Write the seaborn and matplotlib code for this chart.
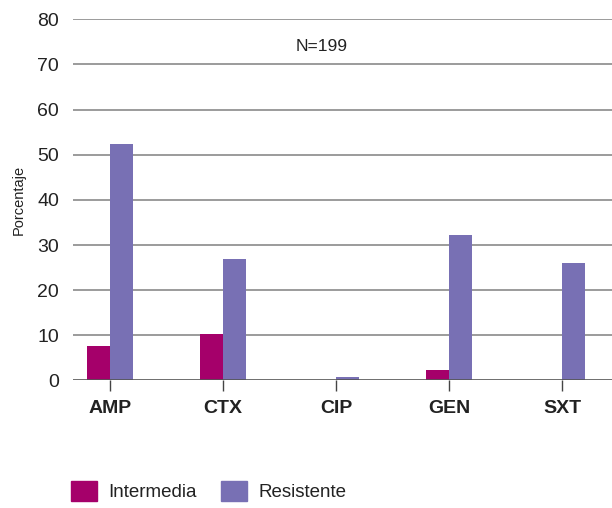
import matplotlib
matplotlib.use("Agg")
import matplotlib.pyplot as plt
import seaborn as sns
import pandas as pd

# data
antibiotics = ['AMP', 'CTX', 'CIP', 'GEN', 'SXT']
intermedia = [7.7, 10.3, 0.0, 2.3, 0.0]
resistente = [52.3, 26.9, 0.8, 32.2, 26.1]
y_ticks = [0, 10, 20, 30, 40, 50, 60, 70, 80]

df = pd.DataFrame({
    'antibiotico': antibiotics * 2,
    'porcentaje': intermedia + resistente,
    'categoria': ['Intermedia'] * 5 + ['Resistente'] * 5,
})

sns.set_style("white")
plt.rcParams['font.family'] = ['Liberation Sans', 'DejaVu Sans']

fig = plt.figure(figsize=(6.12, 5.08), dpi=100)
ax = fig.add_axes([0.119, 0.251, 0.881, 0.711])

palette = {'Intermedia': '#A5006A', 'Resistente': '#7870B4'}
sns.barplot(data=df, x='antibiotico', y='porcentaje', hue='categoria',
            palette=palette, width=0.41, saturation=1, ax=ax, legend=False,
            linewidth=0, zorder=3)

ax.set_ylim(0, 80)
ax.set_xlim(-0.327, 4.44)
ax.set_yticks(y_ticks)
for t in y_ticks[1:]:
    ax.axhline(t, color='#808080', lw=1.1, zorder=1)
ax.axhline(0, color='#555555', lw=1.2, zorder=4)

for s in ['top', 'right', 'left', 'bottom']:
    ax.spines[s].set_visible(False)

ax.tick_params(axis='y', length=0, labelsize=14, pad=10, labelcolor='#222222')
ax.tick_params(axis='x', length=8, width=1, color='#444444', direction='out',
               bottom=True, labelsize=14, pad=6)
for lbl in ax.get_xticklabels():
    lbl.set_fontweight('bold')
    lbl.set_color('#222222')

ax.set_xlabel('')
ax.set_ylabel('Porcentaje', fontsize=10.5, labelpad=8, color='#222222')

ax.text(1.876, 74, 'N=199', ha='center', va='center', fontsize=12.5, color='#222222')

handles = [plt.Rectangle((0, 0), 1, 1, color=palette[k]) for k in ['Intermedia', 'Resistente']]
fig.legend(handles, ['Intermedia', 'Resistente'], loc='center left',
           bbox_to_anchor=(0.1, 0.033), ncol=2, frameon=False, fontsize=13.5,
           handlelength=1.4, handleheight=1.3, columnspacing=1.3, handletextpad=0.6,
           labelcolor='#222222', borderpad=0)

fig.savefig('out.png', dpi=100)
